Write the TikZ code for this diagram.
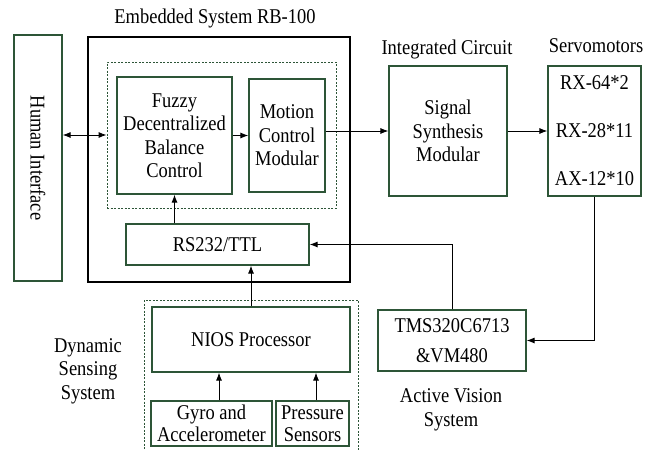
\documentclass[tikz,border=0pt]{standalone}
\usepackage{fontspec}
\setmainfont{Liberation Serif}[FakeStretch=0.88]
\usetikzlibrary{arrows.meta,positioning}
\definecolor{boxgreen}{RGB}{45,85,55}

\begin{document}
\begin{tikzpicture}[x=1pt,y=-1pt,
      font=\fontsize{21}{23.5}\selectfont,
      main node/.style={draw=boxgreen,line width=1.2pt,align=center,inner sep=2pt},
      dash box/.style={draw=boxgreen,line width=0.8pt,dash pattern=on 2pt off 1.5pt},
      link/.style={-{Latex[length=8pt,width=6pt]},line width=0.9pt}]

      \useasboundingbox (0,0) rectangle (657,450);
      \clip (0,0) rectangle (657,450);

      % frames
      \node[draw,line width=2.5pt,minimum width=262pt,minimum height=245pt] (emb) at (219,159.5) {};
      \node[dash box,minimum width=229pt,minimum height=146pt] (core) at (221.5,135) {};
      \node[dash box,minimum width=214pt,minimum height=160pt] (dyn) at (251,380) {};

      \node[main node,minimum width=48pt,minimum height=246pt] (hi) at (38,158) {\rotatebox{-90}{Human Interface}};
      \node[main node,minimum width=115pt,minimum height=117pt] (fuzzy) at (174.5,135.5) {Fuzzy\\Decentralized\\Balance\\Control};
      \node[main node,minimum width=76pt,minimum height=113pt] (motion) at (287,135.5) {Motion\\Control\\Modular};
      \node[main node,minimum width=183pt,minimum height=41pt] (rs) at (217.5,244.5) {RS232/TTL};
      \node[main node,minimum width=118pt,minimum height=130pt] (sig) at (448,131) {Signal\\Synthesis\\Modular};
      \node[main node,minimum width=93pt,minimum height=130pt] (servo) at (594.5,131) {RX-64*2\\[24.5pt]RX-28*11\\[24.5pt]AX-12*10};
      \node[main node,minimum width=148pt,minimum height=61pt] (tms) at (452,340.5) {TMS320C6713\\[6.5pt]\&VM480};
      \node[main node,minimum width=198pt,minimum height=65pt] (nios) at (251,339.5) {NIOS Processor};
      \node[main node,minimum width=121pt,minimum height=45pt,inner sep=0pt] (gyro) at (211.5,423.5) {Gyro and\\[-1pt]Accelerometer};
      \node[main node,minimum width=73pt,minimum height=45pt,inner sep=0pt] (press) at (312.5,423.5) {Pressure\\[-1pt]Sensors};

      % titles
      \node (embtitle) at (215,18) {Embedded System RB-100};
      \node (ictitle) at (447,49) {Integrated Circuit};
      \node (servotitle) at (596,46) {Servomotors};
      \node[align=center] (dyntitle) at (88,371) {Dynamic\\Sensing\\System};
      \node[align=center] (vistitle) at (451,410) {Active Vision\\System};

      \draw[link,{Latex[length=8pt,width=6pt]}-{Latex[length=8pt,width=6pt]}] (hi.east |- core.west) -- (core.west);
      \draw[link] (fuzzy.east) -- (motion.west);
      \draw[link] (motion.east |- sig.west) -- (sig.west);
      \draw[link] (sig.east) -- (servo.west);
      \draw[link] (servo.south) |- (tms.east);
      \draw[link] (tms.north) |- (rs.east);
      \draw[link] (fuzzy.south |- rs.north) -- (fuzzy.south);
      \draw[link] (nios.north) -- (nios.north |- rs.south);
      \draw[link] ([xshift=7.5pt]gyro.north) -- ([xshift=7.5pt]gyro.north |- nios.south);
      \draw[link] ([xshift=3.5pt]press.north) -- ([xshift=3.5pt]press.north |- nios.south);
    \end{tikzpicture}
\end{document}
